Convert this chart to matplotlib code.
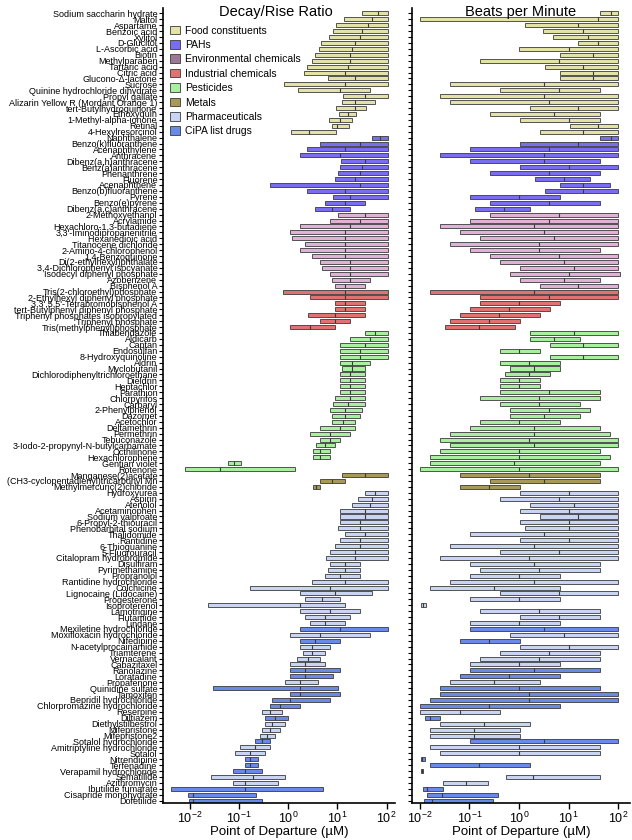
import numpy as np
import matplotlib
matplotlib.use("Agg")
import matplotlib.pyplot as plt
from matplotlib.patches import Patch
from matplotlib.ticker import LogLocator, NullLocator

plt.rcParams['font.family'] = ['Liberation Sans', 'DejaVu Sans']

# chemicals, top to bottom
names = [
    "Sodium saccharin hydrate", "Maltol", "Aspartame", "Benzoic acid", "Xylitol",
    "D-Glucitol", "L-Ascorbic acid", "Biotin", "Methylparaben", "Tartaric acid",
    "Citric acid", "Glucono-\u0394-lactone", "Sucrose", "Quinine hydrochloride dihydrate",
    "Propyl gallate", "Alizarin Yellow R (Mordant Orange 1)", "tert-Butylhydroquinone",
    "Ethoxyquin", "1-Methyl-alpha-ionone", "Retinal", "4-Hexylresorcinol",
    "Naphthalene", "Benzo(k)fluoranthene", "Acenaphthylene", "Anthracene",
    "Dibenz(a,h)anthracene", "Benz(a)anthracene", "Phenanthrene", "Fluorene",
    "Acenaphthene", "Benzo(b)fluoranthene", "Pyrene", "Benzo(e)pyrene",
    "Dibenz(a,c)anthracene",
    "2-Methoxyethanol", "Acrylamide", "Hexachloro-1,3-butadiene",
    "3,3'-Iminodipropanenitrile", "Hexanedioic acid", "Titanocene dichloride",
    "2-Amino-4-chlorophenol", "1,4-Benzoquinone", "Di(2-ethylhexyl)phthalate",
    "3,4-Dichlorophenyl isocyanate", "Isodecyl diphenyl phosphate", "Azobenzene",
    "Bisphenol A",
    "Tris(2-chloroethyl)phosphate", "2-Ethylhexyl diphenyl phosphate",
    "3,3',5,5'-Tetrabromobisphenol A", "tert-Butylphenyl diphenyl phosphate",
    "Triphenyl phosphates isopropylated", "Triphenyl phosphate",
    "Tris(methylphenyl)phosphate",
    "Thiabendazole", "Aldicarb", "Captan", "Endosulfan", "8-Hydroxyquinoline",
    "Aldrin", "Myclobutanil", "Dichlorodiphenyltrichloroethane", "Dieldrin",
    "Heptachlor", "Parathion", "Chlorpyrifos", "Carbaryl", "2-Phenylphenol",
    "Dazomet", "Acetochlor", "Deltamethrin", "Permethrin", "Tebuconazole",
    "3-Iodo-2-propynyl-N-butylcarbamate", "Octhilinone", "Hexachlorophene",
    "Gentian violet", "Rotenone",
    "Manganese(2)acetate", "(CH3-cyclopentadienyl)tricarbonyl Mn",
    "Methylmercuric(2)chloride",
    "Hydroxyurea", "Aspirin", "Atenolol", "Acetaminophen", "Sodium valproate",
    "6-Propyl-2-thiouracil", "Phenobarbital sodium", "Thalidomide", "Rantidine",
    "6-Thioguanine", "5-Fluorouracil", "Citalopram hydrobromide", "Disulfiram",
    "Pyrimethamine", "Propranolol", "Rantidine hydrochloride", "Colchicine",
    "Lignocaine (Lidocaine)", "Progesterone", "Isoproterenol", "Lamotrigine",
    "Flutamide", "Lindane", "Mexiletine hydrochloride", "Moxifloxacin hydrochloride",
    "Nifedipine", "N-acetylprocainamide", "Triamterene", "Vernacalant",
    "Cabazitaxel", "Ranolazine", "Loratadine", "Propafenone", "Quinidine sulfate",
    "Tamoxifen", "Bepridil hydrochloride", "Chlorpromazine hydrochloride",
    "Reserpine", "Diltiazem", "Diethylstilbestrol", "Mifepristone", "Mifepristone2",
    "Sotalol hydrochloride", "Amitriptyline hydrochloride", "Sotalol",
    "Nitrendipine", "Terfenadine", "Verapamil hydrochloride", "Sematilide",
    "Azithromycin", "Ibutilide fumarate", "Cisapride monohydrate", "Dofetilide",
]

group_names = ["Food constituents", "PAHs", "Environmental chemicals",
               "Industrial chemicals", "Pesticides", "Metals", "Pharmaceuticals"]
group_counts = [21, 13, 13, 7, 24, 3, 53]

cipa = ["Mexiletine hydrochloride", "Nifedipine", "Ranolazine", "Loratadine",
        "Quinidine sulfate", "Tamoxifen", "Bepridil hydrochloride",
        "Chlorpromazine hydrochloride", "Diltiazem", "Sotalol hydrochloride",
        "Nitrendipine", "Terfenadine", "Verapamil hydrochloride",
        "Ibutilide fumarate", "Cisapride monohydrate", "Dofetilide"]

# point of departure, log10(uM): low end, median, high end
dr_lo = [1.50, 1.14, 0.98, 0.91, 0.83, 0.67, 0.63, 0.55, 0.49, 0.39, 0.33, 0.81, -0.08,
         0.20, 1.12, 1.10, 0.98, 1.04, 0.83, 0.89, 0.06,
         1.71, 0.65, 0.39, 0.24, 1.08, 1.06, 1.02, 0.96, -0.37, 0.39, 0.91, 0.75, 0.55,
         1.02, 0.85, 0.24, 0.04, 0.08, 0.35, 0.24, 0.49, 0.65, 0.69, 0.85, 0.89, 0.96,
         -0.10, 0.45, 0.96, 0.96, 0.41, 0.65, 0.04,
         1.57, 1.26, 1.06, 1.06, 1.06, 1.06, 1.10, 1.06, 1.06, 1.06, 1.06, 0.96, 0.91,
         0.85, 0.89, 0.89, 0.65, 0.45, 0.65, 0.57, 0.51, 0.51, -1.22, -2.09,
         1.10, 0.65, 0.51,
         1.57, 1.42, 1.30, 1.06, 1.06, 1.06, 1.02, 1.16, 1.06, 0.96, 0.85, 0.77, 0.85,
         0.81, 0.75, 0.49, -0.77, 0.24, 0.35, -1.63, 0.24, 0.35, 0.45, 0.24, 0.04,
         0.24, 0.24, 0.30, 0.18, 0.04, 0.04, 0.04, -0.06, -1.52, 0.04, -0.33, -0.37,
         -0.53, -0.47, -0.47, -0.53, -0.57, -0.67, -0.98, -1.08, -0.87, -0.87, -1.12,
         -1.57, -1.12, -2.38, -2.03, -2.01]
dr_md = [1.83, 1.71, 1.63, 1.50, 1.46, 1.36, 1.30, 1.26, 1.26, 1.22, 1.16, 1.36, 1.16,
         1.06, 1.57, 1.36, 1.36, 1.22, 1.06, 1.00, 0.43,
         1.87, 1.46, 1.16, 1.06, 1.57, 1.50, 1.46, 1.36, 1.46, 1.16, 1.26, 1.16, 0.89,
         1.57, 1.46, 1.26, 1.16, 1.16, 1.16, 1.16, 1.16, 1.26, 1.26, 1.26, 1.26, 1.16,
         1.16, 1.16, 1.16, 1.16, 0.96, 0.96, 0.45,
         1.77, 1.67, 1.57, 1.46, 1.46, 1.30, 1.30, 1.26, 1.26, 1.26, 1.26, 1.26, 1.22,
         1.16, 1.16, 1.12, 1.06, 0.85, 0.85, 0.75, 0.65, 0.65, -1.10, -1.38,
         1.57, 0.89, 0.57,
         1.77, 1.71, 1.67, 1.57, 1.57, 1.46, 1.46, 1.57, 1.46, 1.46, 1.36, 1.36, 1.16,
         1.16, 1.06, 1.16, 0.85, 0.96, 0.69, 0.24, 0.85, 0.75, 0.75, 1.06, 0.65,
         0.55, 0.49, 0.49, 0.41, 0.35, 0.35, 0.35, 0.24, 0.24, 0.24, 0.04, -0.16,
         -0.37, -0.26, -0.33, -0.37, -0.43, -0.53, -0.67, -0.77, -0.77, -0.77, -0.87,
         -0.71, -0.87, -0.87, -1.93, -1.93]
dr_hi = [2.03] * 13 + [1.67, 2.03, 1.77, 1.59, 1.38, 1.30, 1.24, 0.98] \
    + [2.03] * 11 + [1.57, 1.26] \
    + [2.03] * 11 + [1.67, 1.57] \
    + [2.03, 2.03, 1.57, 1.57, 1.57, 1.26, 0.96] \
    + [2.03] * 5 + [1.67, 1.57, 1.57, 1.57, 1.57, 1.57, 1.57, 1.57, 1.50, 1.46, 1.36,
                    1.36, 1.26, 1.06, 0.96, 0.85, 0.85, -0.96, 0.14] \
    + [2.03, 1.16, 0.65] \
    + [2.03] * 12 + [1.46, 1.46, 1.46, 2.03, 2.03, 1.71, 1.06, 1.16, 1.46, 1.26, 1.16,
                     2.03, 1.67, 1.06, 0.85, 0.75, 0.65, 0.75, 1.06, 0.92, 0.61, 1.02,
                     1.06, 0.85, 0.24, -0.12, 0.00, -0.06, -0.16, -0.26, -0.37, -0.37,
                     -0.47, -0.61, -0.61, -0.53, -0.06, -0.20, 0.71, -0.65, -0.53]

bpm_lo = [1.63, -2.00, 0.12, 0.48, 0.69, 1.19, 0.00, 0.83, -0.79, 0.52, 0.83, 0.83, -1.39,
          -0.38, -1.59, -1.39, 0.22, -0.58, 0.02, 1.03, 0.42,
          1.63, 0.02, -0.99, -1.59, -0.99, 0.02, -0.58, 0.32, 0.83, 0.52, -0.99, -0.58, -0.89,
          -0.58, -0.99, -1.59, -1.19, -0.79, -1.39, -0.99, -0.58, -0.38, 0.02, -0.18, 0.02, 0.42,
          -1.79, -0.79, -0.79, -0.99, -1.19, -1.39, -1.49,
          0.22, 0.22, 0.63, -0.38, 0.63, -0.38, -0.18, -0.28, -0.38, -0.38, -0.38, -0.79,
          -0.38, -0.18, -0.18, -0.79, -0.99, -1.39, -1.59, -1.39, -1.59, -1.79, -1.79, -2.00,
          -1.19, -0.58, -1.19,
          0.02, -0.38, 0.22, 0.02, 0.42, 0.02, 0.12, -0.99, 0.02, -1.39, -0.38, -1.59, -0.99,
          -0.79, -0.99, -1.39, -1.79, -0.38, -0.99, -1.98, -0.79, 0.02, -0.99, -0.99, -0.18,
          -1.19, 0.02, -0.38, -0.79, -0.99, -0.99, -1.19, -1.39, -1.59, -1.59, -1.79, -2.00,
          -2.00, -1.90, -1.59, -1.79, -1.79, -0.99, -1.79, -1.59, -1.98, -1.79, -1.98,
          -0.26, -1.53, -1.94, -1.85, -1.92]
bpm_md = [1.85, 1.60, 1.20, 1.30, 1.40, 1.60, 1.00, 1.50, 0.80, 1.30, 1.50, 1.50, 0.50,
          0.80, 0.50, 0.60, 1.20, 0.70, 1.00, 1.60, 1.30,
          1.85, 1.20, 0.60, 0.50, 0.50, 1.00, 0.60, 0.90, 1.30, 1.30, 0.00, 0.60, -0.30,
          0.80, 0.60, 0.30, 0.50, 0.70, 0.40, 0.40, 0.80, 0.90, 1.10, 1.00, 0.90, 1.20,
          0.30, 0.60, 0.00, -0.20, -0.40, -0.60, -0.80,
          1.10, 0.70, 1.30, 0.00, 1.30, 0.20, 0.30, 0.20, 0.00, 0.00, 0.60, 0.40,
          0.40, 0.60, 0.50, 0.00, 0.30, 0.30, 0.20, 0.30, 0.00, 0.00, -0.10, 0.00,
          0.20, 0.50, -0.60,
          1.00, 0.80, 1.10, 1.00, 1.20, 1.00, 1.00, 0.50, 1.00, 0.30, 0.80, 0.20, 0.30,
          0.40, 0.00, 0.30, -0.50, 0.80, 0.00, -1.93, 0.40, 0.80, 0.00, 0.50, 0.90,
          -0.60, 1.00, 0.60, 0.40, 0.00, 0.30, -0.20, -0.50, 0.00, 0.20, 0.20, -0.60,
          -1.20, -1.80, -0.70, -0.90, -0.90, 0.50, 0.00, 0.00, -1.95, -0.80, -1.96,
          0.28, -1.07, -1.85, -1.55, -1.75]
bpm_hi = [2.00] * 13 + [1.63, 2.00, 2.00, 2.00, 1.63, 1.63, 2.00, 2.00] \
    + [2.00, 2.00, 2.00, 2.00, 1.63, 2.00, 1.63, 1.43, 1.83, 2.00, 0.83, 1.63, 0.22] \
    + [2.00] * 6 + [1.63, 2.00, 2.00, 2.00, 2.04, 1.63, 2.00] \
    + [2.00, 2.00, 0.83, 0.63, 0.42, 0.02, -0.08] \
    + [2.00, 1.23, 2.00, 0.42, 2.00, 0.83, 0.83, 0.63, 0.42, 0.42, 1.63, 1.63, 1.23,
       1.43, 1.23, 0.83, 1.63, 1.83, 2.00, 2.00, 1.63, 1.83, 1.63, 2.00] \
    + [1.63, 1.63, 0.02] \
    + [2.00] * 12 + [1.63, 1.63, 0.83, 2.00, 0.83, 2.00, 0.83, -1.88, 1.63, 1.63, 0.83,
                     2.00, 2.00, 0.02, 2.00, 1.63, 1.63, 0.83, 1.63, 0.83, 0.42, 1.63,
                     2.00, 2.00, 0.83, -0.38, -1.59, 0.22, 0.02, 0.02, 2.00, 1.63, 1.63,
                     -1.90, 0.22, -1.94, 1.63, -0.63, -1.53, -0.42, -0.52]

legend_colors = {"Food constituents": "#e3e3a8", "PAHs": "#7a6ef0",
                 "Environmental chemicals": "#9c7896", "Industrial chemicals": "#e07272",
                 "Pesticides": "#a8f0a0", "Metals": "#a8985a",
                 "Pharmaceuticals": "#c9d5f2", "CiPA list drugs": "#6a8ae8"}
bar_colors = dict(legend_colors)
bar_colors["Environmental chemicals"] = "#e2b2d6"

groups = []
for g, n in zip(group_names, group_counts):
    groups += [g] * n
row_colors = [bar_colors["CiPA list drugs"] if nm in cipa else bar_colors[g]
              for nm, g in zip(names, groups)]

y = np.arange(len(names))
W, H = 632, 840
fig = plt.figure(figsize=(W / 100, H / 100), dpi=100)
ax1 = fig.add_axes([163 / W, 1 - 803 / H, 232 / W, 795 / H])
ax2 = fig.add_axes([412 / W, 1 - 803 / H, 218 / W, 795 / H])

bh = 0.68
for ax, lo, md, hi in [(ax1, dr_lo, dr_md, dr_hi), (ax2, bpm_lo, bpm_md, bpm_hi)]:
    lo = 10 ** np.array(lo)
    md = 10 ** np.array(md)
    hi = 10 ** np.array(hi)
    ax.set_xscale("log")
    ax.barh(y, hi - lo, left=lo, height=bh, color=row_colors,
            edgecolor="#3a3a3a", linewidth=0.6)
    ax.vlines(md, y - bh / 2, y + bh / 2, color="#3a3a3a", linewidth=0.8)
    ax.set_ylim(133.4, -0.9)
    ax.spines["top"].set_visible(False)
    ax.spines["right"].set_visible(False)
    for s in ("left", "bottom"):
        ax.spines[s].set_linewidth(1.2)
    ax.set_yticks(y)
    ax.xaxis.set_major_locator(LogLocator(base=10, numticks=10))
    ax.xaxis.set_minor_locator(NullLocator())
    ax.tick_params(axis="y", length=3, width=0.8, pad=1)
    ax.tick_params(axis="x", length=4, width=1, labelsize=9, pad=1.5)
    ax.set_xlabel("Point of Departure (\u00b5M)", fontsize=9.5, labelpad=0)

ax1.set_xlim(10 ** -2.54, 10 ** 2.17)
ax2.set_xlim(10 ** -2.16, 10 ** 2.24)
ax1.set_yticklabels(names, fontsize=6.5)
ax2.set_yticklabels([])

fig.text(276 / W, 1 - 12 / H, "Decay/Rise Ratio", ha="center", va="center", fontsize=10.5)
fig.text(521 / W, 1 - 12 / H, "Beats per Minute", ha="center", va="center", fontsize=10.5)

handles = [Patch(facecolor=legend_colors[k], edgecolor="#3a3a3a", linewidth=0.6)
           for k in legend_colors]
ax1.legend(handles, list(legend_colors), loc="upper left", bbox_to_anchor=(0.0, 0.987),
           frameon=False, fontsize=7.5, handlelength=0.9, handleheight=0.9,
           handletextpad=0.5, labelspacing=0.42, borderaxespad=0.3)

fig.savefig("out.png", dpi=100)
